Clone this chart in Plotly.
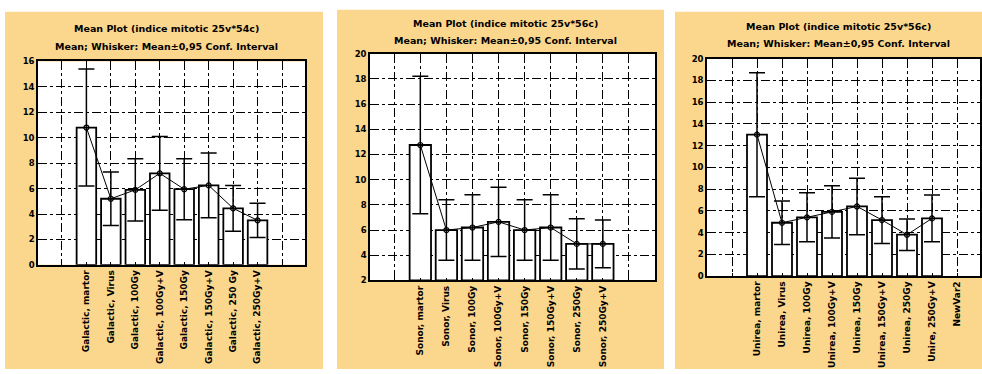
import plotly.graph_objects as go

W, H = 982, 374

title_main = ["Mean Plot (indice mitotic 25v*54c)",
              "Mean Plot (indice mitotic 25v*56c)",
              "Mean Plot (indice mitotic 25v*56c)"]
subtitle = "Mean; Whisker: Mean±0,95 Conf. Interval"

# Panel 1 - Galactic
cats1 = ["Galactic, martor", "Galactic, Virus", "Galactic, 100Gy", "Galactic, 100Gy+V",
         "Galactic, 150Gy", "Galactic, 150Gy+V", "Galactic, 250 Gy", "Galactic, 250Gy+V"]
means1 = [10.8, 5.2, 5.9, 7.2, 5.95, 6.25, 4.45, 3.5]
ci1 = [4.6, 2.1, 2.45, 2.9, 2.4, 2.55, 1.8, 1.35]
slots1 = [""] + cats1 + [""]

# Panel 2 - Sonor
cats2 = ["Sonor, martor", "Sonor, Virus", "Sonor, 100Gy", "Sonor, 100Gy+V",
         "Sonor, 150Gy", "Sonor, 150Gy+V", "Sonor, 250Gy", "Sonor, 250Gy+V"]
means2 = [12.75, 6.0, 6.2, 6.65, 6.0, 6.2, 4.9, 4.9]
ci2 = [5.45, 2.4, 2.6, 2.75, 2.4, 2.6, 2.0, 1.9]
slots2 = [""] + cats2 + [""]

# Panel 3 - Unirea
cats3 = ["Unirea, martor", "Unirea, Virus", "Unirea, 100Gy", "Unirea, 100Gy+V",
         "Unirea, 150Gy", "Unirea, 150Gy+V", "Unirea, 250Gy", "Unire, 250Gy+V"]
means3 = [13.0, 4.9, 5.4, 5.9, 6.4, 5.15, 3.8, 5.3]
ci3 = [5.7, 2.0, 2.25, 2.4, 2.6, 2.15, 1.45, 2.15]
slots3 = [""] + cats3 + ["NewVar2"]

yticks1 = list(range(0, 17, 2))
yticks2 = list(range(2, 21, 2))
yticks3 = list(range(0, 21, 2))

ORANGE = "#FBD68D"
FONT = "DejaVu Sans"

def px_x(p):
    return p / W

def px_y(p):
    return 1 - p / H

panels = [
    dict(cats=cats1, means=means1, ci=ci1, slots=slots1, yticks=yticks1, yr=[0, 16],
         plot=(38, 305, 58, 267), xr=[-0.98, 9.94], bg=(5, 323, 7, 374),
         ttl=(166, 24, 43), width=0.8),
    dict(cats=cats2, means=means2, ci=ci2, slots=slots2, yticks=yticks2, yr=[2, 20],
         plot=(370, 655, 50, 283), xr=[-0.93, 10.0], bg=(337, 664, 5, 374),
         ttl=(505, 19, 36), width=0.82),
    dict(cats=cats3, means=means3, ci=ci3, slots=slots3, yticks=yticks3, yr=[0, 20],
         plot=(707, 980, 55, 278.5), xr=[-1.0, 9.92], bg=(675, 982, 7, 374),
         ttl=(838, 22, 40), width=0.8),
]

fig = go.Figure()
shapes = []
annotations = []
layout_axes = {}

for i, p in enumerate(panels):
    n = i + 1
    xa = "x" if n == 1 else f"x{n}"
    ya = "y" if n == 1 else f"y{n}"
    pos = list(range(1, len(p["cats"]) + 1))
    base = p["yr"][0]
    fig.add_trace(go.Bar(
        x=pos, y=[m - base for m in p["means"]], base=base, width=p["width"],
        marker=dict(color="white", line=dict(color="black", width=1.8)),
        xaxis=xa, yaxis=ya, showlegend=False, hoverinfo="skip"))
    fig.add_trace(go.Scatter(
        x=pos, y=p["means"], mode="lines+markers",
        line=dict(color="black", width=1),
        marker=dict(symbol="circle-open", size=5, color="black", line=dict(width=1.2)),
        error_y=dict(type="data", array=p["ci"], visible=True, color="black",
                     thickness=1.5, width=8),
        xaxis=xa, yaxis=ya, showlegend=False, hoverinfo="skip"))

    x0, x1, y0, y1 = p["plot"]
    common = dict(showline=True, mirror=True, linecolor="black", linewidth=1.5,
                  showgrid=True, gridcolor="black", gridwidth=1, griddash="dashdot",
                  zeroline=False, ticks="inside", ticklen=3, tickcolor="black")
    layout_axes["xaxis" if n == 1 else f"xaxis{n}"] = dict(
        domain=[px_x(x0), px_x(x1)], range=p["xr"], anchor=ya,
        tickmode="array", tickvals=list(range(len(p["slots"]))), ticktext=p["slots"],
        tickangle=-90,
        tickfont=dict(family=FONT, size=9, color="black", weight="bold"), **common)
    layout_axes["yaxis" if n == 1 else f"yaxis{n}"] = dict(
        domain=[px_y(y1), px_y(y0)], range=p["yr"], anchor=xa,
        tickmode="array", tickvals=p["yticks"],
        tickfont=dict(family=FONT, size=8.5, color="black", weight="bold"), **common)

    bx0, bx1, by0, by1 = p["bg"]
    shapes.append(dict(type="rect", xref="paper", yref="paper", layer="below",
                       x0=px_x(bx0), x1=px_x(bx1), y0=px_y(by1), y1=px_y(by0),
                       fillcolor=ORANGE, line=dict(width=0)))
    shapes.append(dict(type="rect", xref="paper", yref="paper", layer="below",
                       x0=px_x(x0), x1=px_x(x1), y0=px_y(y1), y1=px_y(y0),
                       fillcolor="white", line=dict(width=0)))
    tx, ty1, ty2 = p["ttl"]
    annotations.append(dict(text=title_main[i], x=px_x(tx), y=px_y(ty1), xref="paper",
                            yref="paper", showarrow=False, xanchor="center", yanchor="middle",
                            font=dict(family=FONT, size=9.5, color="black", weight="bold")))
    annotations.append(dict(text=subtitle, x=px_x(tx), y=px_y(ty2), xref="paper",
                            yref="paper", showarrow=False, xanchor="center", yanchor="middle",
                            font=dict(family=FONT, size=9.5, color="black", weight="bold")))

fig.update_layout(
    width=W, height=H, margin=dict(l=0, r=0, t=0, b=0),
    paper_bgcolor="white", plot_bgcolor="white",
    shapes=shapes, annotations=annotations, bargap=0.2,
    **layout_axes)

fig.write_html("out.html", config={"displayModeBar": False},
               post_script="document.body.style.margin='0';document.body.style.overflow='hidden';")
